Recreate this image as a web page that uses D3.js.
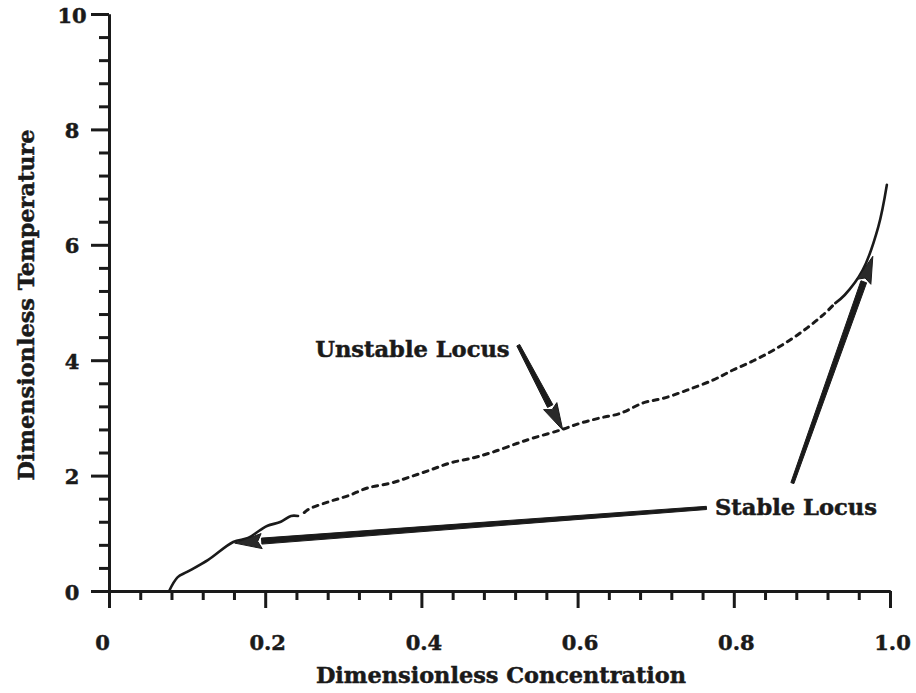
<!DOCTYPE html>
<html>
<head>
<meta charset="utf-8">
<script src="https://cdn.jsdelivr.net/npm/d3@7"></script>
<style>
  html, body { margin: 0; padding: 0; background: #fff; }
  svg { display: block; }
  text { font-family: "DejaVu Serif", "Liberation Serif", serif; font-weight: bold; fill: #1a1a1a; stroke: #1a1a1a; stroke-width: 0.5px; }
</style>
</head>
<body>
<svg id="chart" width="916" height="693"></svg>
<script>
// ---- data ----
const xMajorTicks = [0, 0.2, 0.4, 0.6, 0.8, 1.0];
const xTickLabels = ["0", "0.2", "0.4", "0.6", "0.8", "1.0"];
const yMajorTicks = [0, 2, 4, 6, 8, 10];
const yTickLabels = ["0", "2", "4", "6", "8", "10"];
const xMinorStep = 0.04;
const yMinorStep = 0.4;

// stable branch (low temperature)
const stableLowX = [0.077, 0.088, 0.100, 0.127, 0.159, 0.178, 0.194, 0.203, 0.220, 0.233, 0.242];
const stableLowY = [0.00, 0.24, 0.33, 0.54, 0.85, 0.92, 1.06, 1.13, 1.20, 1.30, 1.30];
// unstable branch
const unstableX = [0.250, 0.256, 0.280, 0.306, 0.332, 0.361, 0.386, 0.412, 0.437, 0.467, 0.492, 0.523, 0.543, 0.578, 0.604, 0.629, 0.655, 0.684, 0.710, 0.740, 0.774, 0.799, 0.825, 0.849, 0.872, 0.894, 0.914, 0.930];
const unstableY = [1.36, 1.42, 1.54, 1.65, 1.79, 1.87, 1.98, 2.10, 2.22, 2.31, 2.41, 2.56, 2.65, 2.79, 2.91, 3.00, 3.08, 3.26, 3.34, 3.48, 3.66, 3.83, 3.99, 4.16, 4.35, 4.56, 4.78, 4.99];
// stable branch (high temperature)
const stableHighX = [0.930, 0.942, 0.965, 0.985, 0.996];
const stableHighY = [4.99, 5.13, 5.56, 6.31, 7.04];

// annotations (data coordinates)
const annotationLabels = ["Unstable Locus", "Stable Locus"];
const annotationX = [0.264, 0.776];
const annotationY = [4.06, 1.32];
// arrows: tail -> tip
const arrowTailX = [0.524, 0.765, 0.875];
const arrowTailY = [4.26, 1.44, 1.87];
const arrowTipX = [0.581, 0.161, 0.978];
const arrowTipY = [2.79, 0.83, 5.80];

const xTitle = "Dimensionless Concentration";
const yTitle = "Dimensionless Temperature";

// ---- drawing ----
const ink = "#1a1a1a";
const svg = d3.select("#chart");
const x = d3.scaleLinear().domain([0, 1]).range([109, 890]);
const y = d3.scaleLinear().domain([0, 10]).range([591, 14]);

const xMinor = d3.range(0, 1 + 1e-9, xMinorStep).filter(v => !xMajorTicks.some(m => Math.abs(m - v) < 1e-6));
const yMinor = d3.range(0, 10 + 1e-9, yMinorStep).filter(v => !yMajorTicks.some(m => Math.abs(m - v) < 1e-6));

// minor ticks
svg.append("g").attr("transform", `translate(0,${y(0)})`)
  .call(d3.axisBottom(x).tickValues(xMinor).tickSize(9).tickSizeOuter(0).tickFormat(""));
svg.append("g").attr("transform", `translate(${x(0)},0)`)
  .call(d3.axisLeft(y).tickValues(yMinor).tickSize(10).tickSizeOuter(0).tickFormat(""));
// major ticks
const gx = svg.append("g").attr("transform", `translate(0,${y(0)})`)
  .call(d3.axisBottom(x).tickValues(xMajorTicks).tickSize(17).tickSizeOuter(0)
        .tickFormat((d, i) => xTickLabels[i]));
const gy = svg.append("g").attr("transform", `translate(${x(0)},0)`)
  .call(d3.axisLeft(y).tickValues(yMajorTicks).tickSize(18).tickSizeOuter(0)
        .tickFormat((d, i) => yTickLabels[i]));

svg.selectAll(".domain").attr("stroke", ink).attr("stroke-width", 3);
svg.selectAll(".tick line").attr("stroke", ink).attr("stroke-width", 3);
gx.selectAll(".tick text").attr("y", 59).attr("dy", 0).attr("font-size", 21)
  .attr("font-family", null).attr("fill", null)
  .attr("dx", (d, i) => i === 0 ? -7 : 2);
gy.selectAll(".tick text").attr("x", -37).attr("dy", 0).attr("y", 8).attr("text-anchor", "middle")
  .attr("font-size", 21).attr("font-family", null).attr("fill", null);

// axis titles
svg.append("text").attr("x", 501).attr("y", 683).attr("text-anchor", "middle")
  .attr("font-size", 22.4).text(xTitle);
svg.append("text").attr("transform", `translate(34,305) rotate(-90)`).attr("text-anchor", "middle")
  .attr("font-size", 22.4).text(yTitle);

// curves
const line = d3.line().x(d => x(d[0])).y(d => y(d[1])).curve(d3.curveCatmullRom.alpha(0.5));
const zipXY = (a, b) => a.map((v, i) => [v, b[i]]);
svg.append("path").attr("d", line(zipXY(stableLowX, stableLowY)))
  .attr("fill", "none").attr("stroke", ink).attr("stroke-width", 2.6).attr("stroke-linecap", "round");
svg.append("path").attr("d", line(zipXY(unstableX, unstableY)))
  .attr("fill", "none").attr("stroke", ink).attr("stroke-width", 3)
  .attr("stroke-dasharray", "5,5.5").attr("stroke-linecap", "round");
svg.append("path").attr("d", line(zipXY(stableHighX, stableHighY)))
  .attr("fill", "none").attr("stroke", ink).attr("stroke-width", 2.6).attr("stroke-linecap", "round");

// arrows
arrowTailX.forEach((tx, i) => {
  const x0 = x(tx), y0 = y(arrowTailY[i]), x1 = x(arrowTipX[i]), y1 = y(arrowTipY[i]);
  const dx = x1 - x0, dy = y1 - y0, len = Math.hypot(dx, dy);
  const ux = dx / len, uy = dy / len, px = -uy, py = ux;
  const headL = 27, headW = 7.5, w0 = 1.6, w1 = 3;
  const bx = x1 - ux * headL, by = y1 - uy * headL;
  const shaft = [[x0 + px * w0, y0 + py * w0], [bx + px * w1, by + py * w1],
                 [bx - px * w1, by - py * w1], [x0 - px * w0, y0 - py * w0]];
  svg.append("path").attr("d", "M" + shaft.map(p => p.join(",")).join("L") + "Z")
    .attr("fill", ink).attr("stroke", ink).attr("stroke-width", 1).attr("stroke-linejoin", "round");
  const head = [[x1, y1], [bx + px * headW, by + py * headW], [bx + ux * 4, by + uy * 4], [bx - px * headW, by - py * headW]];
  svg.append("path").attr("d", "M" + head.map(p => p.join(",")).join("L") + "Z")
    .attr("fill", "#2a2a2a").attr("stroke", ink).attr("stroke-width", 1);
});

// annotation labels
annotationLabels.forEach((t, i) => {
  svg.append("text").attr("x", x(annotationX[i])).attr("y", y(annotationY[i]))
    .attr("font-size", 22.6).text(t);
});
</script>
</body>
</html>
